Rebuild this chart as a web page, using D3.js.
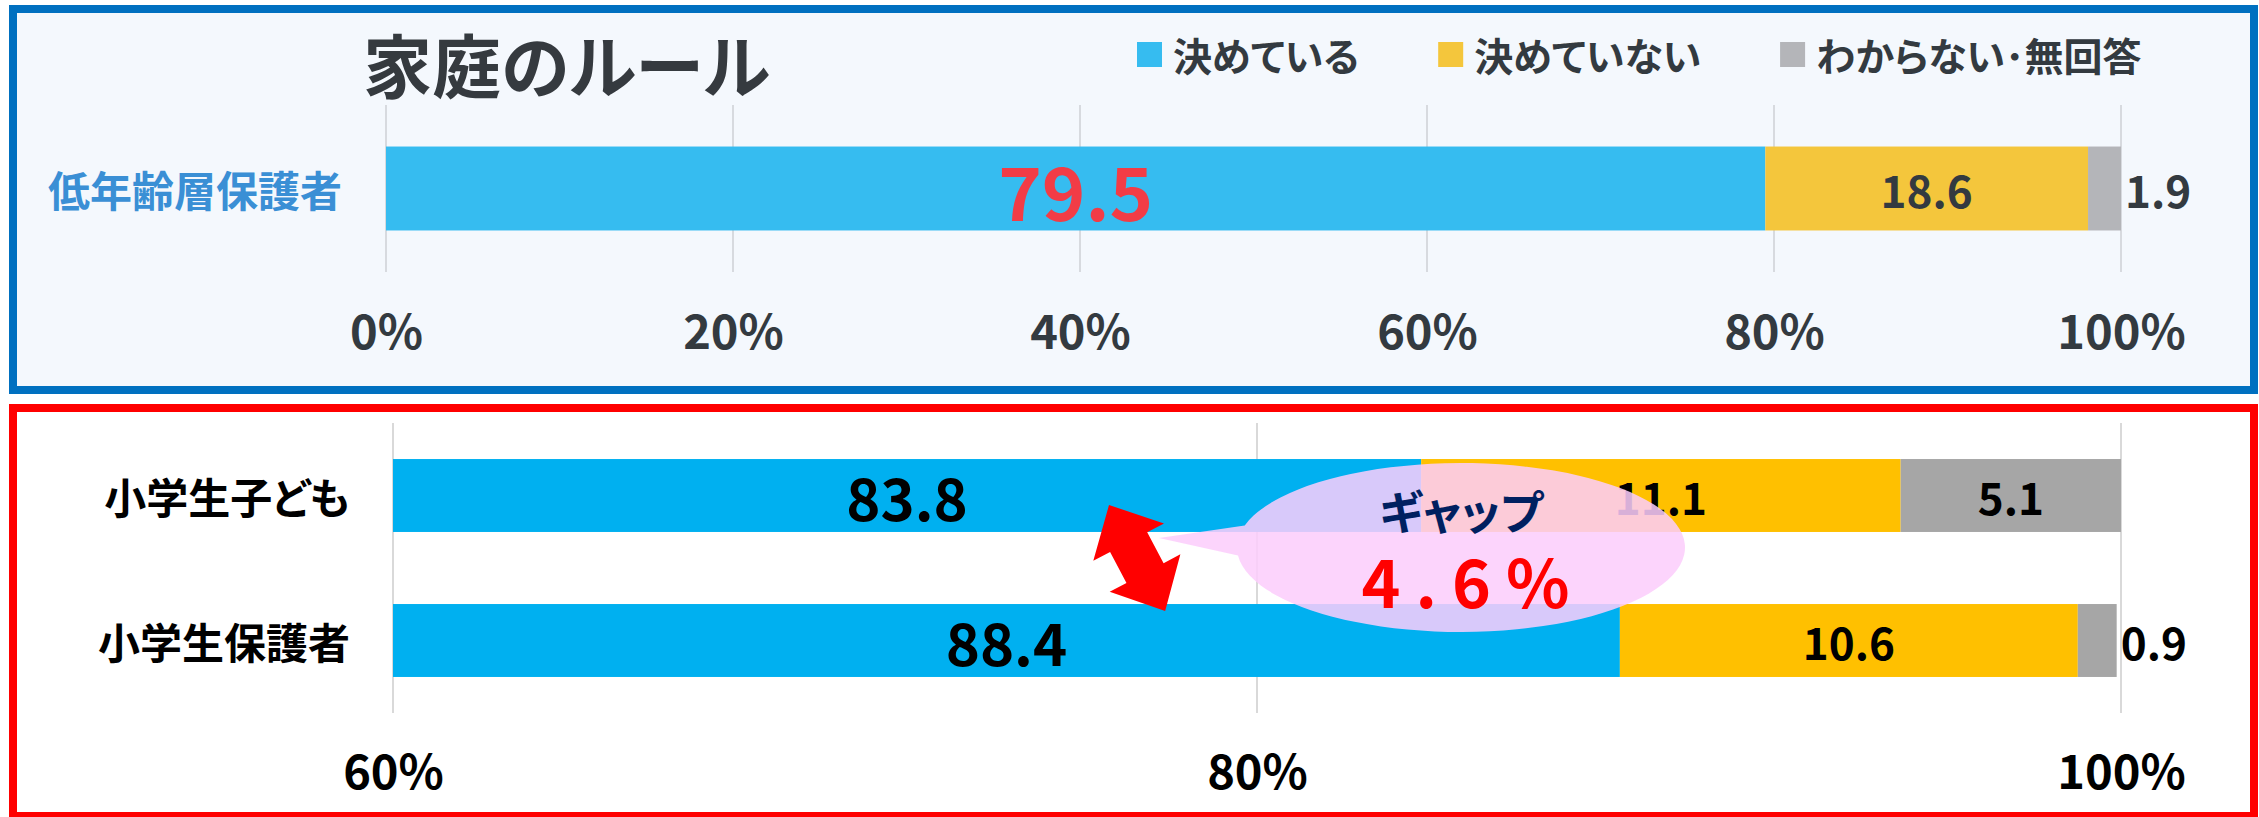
<!DOCTYPE html>
<html>
<head>
<meta charset="utf-8">
<script src="https://cdn.jsdelivr.net/npm/d3@7"></script>
<style>
  body { margin: 0; background: #fff; }
  text { font-family: "Noto Sans CJK JP", "Noto Sans", sans-serif; font-weight: 700; font-feature-settings: "palt"; }
</style>
</head>
<body>
<svg id="chart" width="2259" height="817"></svg>
<script>
// ---- data ----
const seriesNames = ['決めている', '決めていない', 'わからない･無回答'];
const seriesKeys = ['decided', 'undecided', 'unknown'];

const topCategories = ['低年齢層保護者'];
const topDecided = [79.5];
const topUndecided = [18.6];
const topUnknown = [1.9];
const topTicks = [0, 20, 40, 60, 80, 100];

const bottomCategories = ['小学生子ども', '小学生保護者'];
const bottomDecided = [83.8, 88.4];
const bottomUndecided = [11.1, 10.6];
const bottomUnknown = [5.1, 0.9];
const bottomTicks = [60, 80, 100];

const gapLabel = 'ギャップ';
const gapValue = '4.6%';

const svg = d3.select('#chart');

// panels frames
svg.append('rect')
  .attr('x', 13).attr('y', 9).attr('width', 2241).attr('height', 381)
  .attr('fill', '#f4f8fd').attr('stroke', '#0070c0').attr('stroke-width', 8);
svg.append('rect')
  .attr('x', 13).attr('y', 408).attr('width', 2241).attr('height', 408)
  .attr('fill', '#ffffff').attr('stroke', '#ff0000').attr('stroke-width', 8);

// title
svg.append('text')
  .attr('x', 363).attr('y', 63)
  .attr('dominant-baseline', 'central')
  .attr('font-size', 69)
  .attr('fill', '#353a3f')
  .text('家庭のルール');

const makeRows = (cats, a, b, c) => cats.map((cat, i) => ({ cat: cat, decided: a[i], undecided: b[i], unknown: c[i] }));

const drawPanel = (opt) => {
  const g = svg.append('g');
  const x = opt.x, y = opt.y;
  const [gy0, gy1] = y.range();

  // gridlines
  g.selectAll('line.grid')
    .data(opt.ticks)
    .enter()
    .append('line')
    .attr('class', 'grid')
    .attr('x1', d => x(d)).attr('x2', d => x(d))
    .attr('y1', gy0).attr('y2', gy1)
    .attr('stroke', opt.gridColor)
    .attr('stroke-width', 2);

  const stacked = d3.stack().keys(seriesKeys)(opt.rows);

  const layer = g.selectAll('g.layer')
    .data(stacked)
    .enter()
    .append('g')
    .attr('class', 'layer')
    .attr('fill', (s, i) => opt.colors[i]);

  layer.selectAll('rect')
    .data(s => s)
    .enter()
    .append('rect')
    .attr('x', d => x(d[0]))
    .attr('y', d => y(d.data.cat))
    .attr('width', d => x(d[1]) - x(d[0]))
    .attr('height', y.bandwidth());

  // value labels
  stacked.forEach((s, si) => {
    g.selectAll('text.v' + si)
      .data(s)
      .enter()
      .append('text')
      .attr('class', 'v' + si)
      .attr('x', d => {
        const v = d.data[seriesKeys[si]];
        return v < 3 ? x(d[1]) + 4 : (x(d[0]) + x(d[1])) / 2;
      })
      .attr('y', d => y(d.data.cat) + y.bandwidth() / 2)
      .attr('text-anchor', d => d.data[seriesKeys[si]] < 3 ? 'start' : 'middle')
      .attr('dominant-baseline', 'central')
      .attr('font-size', opt.labelSizes[si])
      .attr('fill', opt.labelColors[si])
      .text(d => d.data[seriesKeys[si]].toFixed(1));
  });

  // category labels
  g.selectAll('text.cat')
    .data(opt.rows)
    .enter()
    .append('text')
    .attr('class', 'cat')
    .attr('x', opt.catX)
    .attr('y', d => y(d.cat) + y.bandwidth() / 2)
    .attr('text-anchor', 'end')
    .attr('dominant-baseline', 'central')
    .attr('font-size', 42)
    .attr('fill', opt.catColor)
    .text(d => d.cat);

  // axis
  const axis = d3.axisBottom(x)
    .tickValues(opt.ticks)
    .tickFormat(d => d + '%')
    .tickSize(0)
    .tickPadding(0);
  const ag = g.append('g')
    .attr('transform', `translate(0,${opt.axisY})`)
    .call(axis);
  ag.select('.domain').remove();
  ag.attr('font-size', 47).attr('font-family', null).attr('color', opt.axisColor);
};

// top panel
const xTop = d3.scaleLinear().domain([0, 100]).range([386, 2121]);
const yTop = d3.scaleBand().domain(topCategories).range([105, 272]).paddingInner(0.331).paddingOuter(0.331);
drawPanel({
  rows: makeRows(topCategories, topDecided, topUndecided, topUnknown),
  x: xTop, y: yTop, ticks: topTicks,
  gridColor: '#d7dadf',
  colors: ['#36bcf0', '#f4c63c', '#b4b5b9'],
  labelSizes: [74, 44, 44],
  labelColors: ['#f23c46', '#333a40', '#333a40'],
  catX: 342, catColor: '#3a8fd5',
  axisY: 316, axisColor: '#333a40'
});

// bottom panel
const xBottom = d3.scaleLinear().domain([60, 100]).range([393, 2121]).clamp(true);
const yBottom = d3.scaleBand().domain(bottomCategories).range([423, 713]).paddingInner(0.497).paddingOuter(0.2485);
drawPanel({
  rows: makeRows(bottomCategories, bottomDecided, bottomUndecided, bottomUnknown),
  x: xBottom, y: yBottom, ticks: bottomTicks,
  gridColor: '#d9d9d9',
  colors: ['#00b0f0', '#ffc000', '#a6a6a6'],
  labelSizes: [58, 44, 44],
  labelColors: ['#000000', '#000000', '#000000'],
  catX: 350, catColor: '#000000',
  axisY: 756, axisColor: '#000000'
});

// legend
const legendColors = ['#36bcf0', '#f4c63c', '#b4b5b9'];
let lx = 1137;
seriesNames.forEach((name, i) => {
  svg.append('rect')
    .attr('x', lx).attr('y', 42).attr('width', 25).attr('height', 25)
    .attr('fill', legendColors[i]);
  const t = svg.append('text')
    .attr('x', lx + 36).attr('y', 54)
    .attr('dominant-baseline', 'central')
    .attr('font-size', 39)
    .attr('fill', '#333a40')
    .text(name);
  lx += 36 + t.node().getComputedTextLength() + 79;
});

// gap callout bubble
const bub = { cx: 1461, cy: 547.5, rx: 224, ry: 84.5 };
const tip = [1159, 538];
const j1 = [bub.cx - bub.rx * Math.cos(Math.asin(22 / bub.ry)), bub.cy - 22];
const j2 = [bub.cx - bub.rx * Math.cos(Math.asin(8 / bub.ry)), bub.cy + 8];
svg.append('path')
  .attr('d', `M${j1[0]},${j1[1]} L${tip[0]},${tip[1]} L${j2[0]},${j2[1]} A${bub.rx},${bub.ry} 0 1 0 ${j1[0]},${j1[1]} Z`)
  .attr('fill', '#fccdfc')
  .attr('fill-opacity', 0.86);

svg.append('text')
  .attr('x', 1461).attr('y', 509)
  .attr('text-anchor', 'middle')
  .attr('dominant-baseline', 'central')
  .attr('font-size', 46)
  .attr('fill', '#002060')
  .text(gapLabel);

svg.append('text')
  .attr('x', 1473).attr('y', 579)
  .attr('text-anchor', 'middle')
  .attr('dominant-baseline', 'central')
  .attr('font-size', 66)
  .attr('letter-spacing', 15)
  .attr('fill', '#ff0000')
  .style('font-feature-settings', 'normal')
  .text(gapValue);

// double-headed arrow
const arrowPts = [[0, 0], [42, 40], [42, 21], [77, 21], [77, 40], [120, 0], [77, -40], [77, -21], [42, -21], [42, -40]];
svg.append('polygon')
  .attr('points', arrowPts.map(p => p.join(',')).join(' '))
  .attr('transform', 'translate(1109,505) rotate(62.1)')
  .attr('fill', '#ff0000');
</script>
</body>
</html>
